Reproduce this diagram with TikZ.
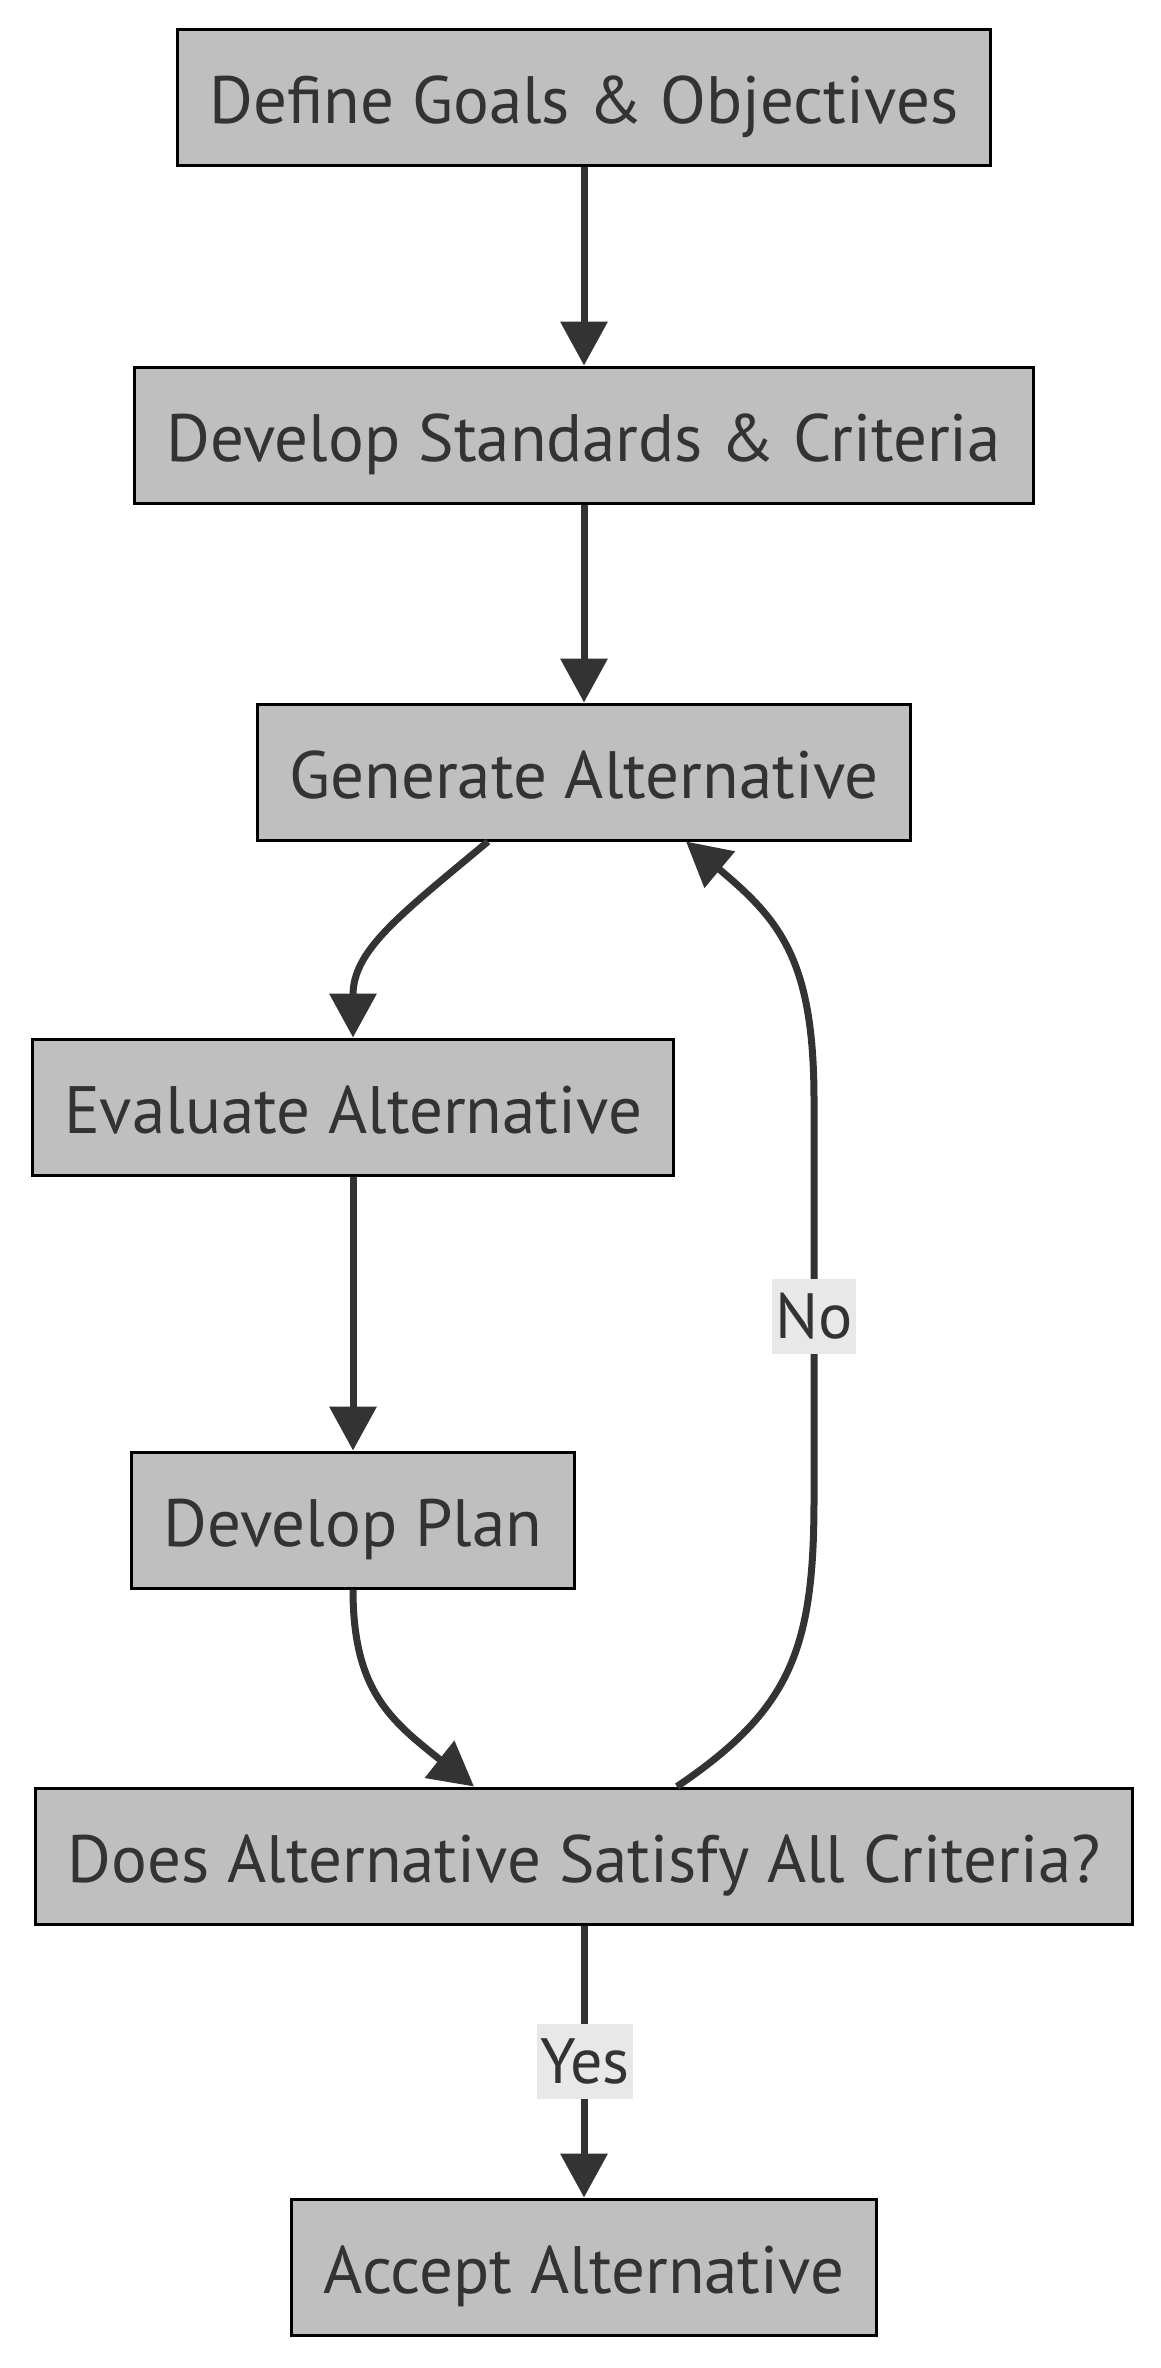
\documentclass[tikz,border=0pt]{standalone}
\usepackage{fontspec}
\setmainfont{PT Sans}
\usetikzlibrary{arrows.meta,calc}
\definecolor{boxfill}{HTML}{BFBFBF}
\definecolor{ink}{HTML}{333333}
\definecolor{lblbg}{HTML}{E8E8E8}
\begin{document}
\begin{tikzpicture}[x=1pt,y=-1pt,
  box/.style={draw=black, line width=3pt, fill=boxfill, text=ink,
    font=\fontsize{67}{80}\selectfont, minimum height=136pt, inner xsep=32pt, inner ysep=0pt,
    text height=60pt, text depth=8pt},
  edge/.style={draw=ink, line width=7pt, -{Triangle[length=44pt,width=46pt]}},
  lbl/.style={fill=lblbg, text=ink, font=\fontsize{64}{76}\selectfont,
    minimum height=75pt, inner xsep=3pt, inner ysep=0pt}]
\useasboundingbox (0,0) rectangle (1160,2368);
\node[box] (n1) at (584,98) {Define Goals \& Objectives};
\node[box] (n2) at (584,435) {Develop Standards \& Criteria};
\node[box] (n3) at (584,772) {Generate Alternative};
\node[box] (n4) at (353,1107) {Evaluate Alternative};
\node[box] (n5) at (353,1520) {Develop Plan};
\node[box] (n6) at (584,1856) {Does Alternative Satisfy All Criteria?};
\node[box] (n7) at (584,2267) {Accept Alternative};

\draw[edge] (n1) -- (n2);
\draw[edge] (n2) -- (n3);
\draw[edge] ([xshift=-96pt]n3.south) .. controls (400,915) and (353,950) .. (n4.north);
\draw[edge] (n4) -- (n5);
\draw[edge] (n5.south) .. controls (353,1690) and (390,1720) .. ([xshift=-110pt]n6.north);
\draw[edge] ([xshift=93pt]n6.north) .. controls (790,1710) and (814,1650) .. (814,1500)
   -- (814,1100) .. controls (814,960) and (780,920) .. ([xshift=102pt]n3.south);
\node[lbl] (no) at (814,1316) {No};
\draw[edge] (n6) -- (n7);
\node[lbl] (yes) at (585,2061) {Yes};
\end{tikzpicture}
\end{document}
